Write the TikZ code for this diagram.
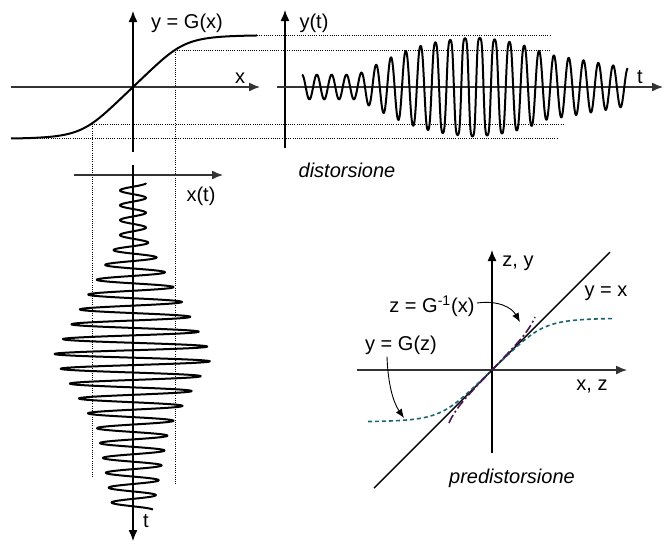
\documentclass[tikz,border=0pt]{standalone}
\usepackage{fontspec}
\setmainfont{Liberation Sans}
\usetikzlibrary{arrows.meta}
\definecolor{PreTeal}{HTML}{1C6470}
\definecolor{PrePurple}{HTML}{4A1450}

\begin{document}
\begin{tikzpicture}[x=0.5pt, y=-0.5pt,
    declare function={
      G(\u)=0.95*\u/(1+((0.95*\u/52)*(0.95*\u/52))^2)^0.25;
      env(\s)=max(13,min(13+186*(\s-0.17),max(80-200*(\s-0.53),36-64*(\s-0.75))));
    },
    axis/.style={line width=0.65pt, -{Latex[length=5.5pt,width=4.5pt]}},
    haxis/.style={axis, draw=black!80, fill=black},
    guide/.style={line width=0.45pt, dash pattern=on 0.5pt off 0.6pt},
    wave/.style={line width=1pt, line join=round},
    curve/.style={line width=1pt},
    gdash/.style={line width=0.8pt, draw=PreTeal, dash pattern=on 2pt off 1.5pt},
    gidash/.style={line width=0.8pt, draw=PrePurple,
                   dash pattern=on 4.5pt off 1.5pt on 1pt off 1.5pt},
    pointer/.style={-{Latex[length=4.5pt,width=3.6pt]}, line width=0.45pt},
    lbl/.style={font=\fontsize{10}{12}\selectfont, inner sep=1pt},
    title/.style={lbl, font=\fontsize{10}{12}\selectfont\itshape}
]
\useasboundingbox (0,0) rectangle (665,543);

% guide lines from the characteristic to the signals
\draw[guide] (257,35.5) -- (550,35.5);
\draw[guide] (175,50) -- (550,50);
\draw[guide] (92,124) -- (563,124);
\draw[guide] (11,138.5) -- (557,138.5);
\draw[guide] (92,124) -- (92,477);
\draw[guide] (175,50) -- (175,485);

% characteristic y = G(x)
\draw[haxis] (11,87) -- (260,87);
\draw[axis] (133,152) -- (133,11);
\draw[curve] plot[domain=-122:124, samples=90] ({133+\x}, {87-G(\x)});
\node[lbl] (gx) at (187,23) {y = G(x)};
\node[lbl] (xlab) at (240,78) {x};

% output signal y(t)
\draw[axis] (285,148) -- (285,10);
\draw[haxis] (277,87) -- (663,87);
\draw[wave] plot[domain=0:1, samples=700, variable=\s]
    ({302+326*\s}, {87-G(env(\s)*cos(7920*\s))});
\node[lbl] (ytlab) at (314,23) {y(t)};
\node[lbl] (tlab) at (640,77) {t};
\node[title] (dist) at (347,170) {distorsione};

% input signal x(t)
\draw[haxis] (74,175) -- (223,175);
\draw[axis] (133,165) -- (133,541);
\draw[wave] plot[domain=0:1, samples=700, variable=\s]
    ({133+env(\s)*cos(7920*\s)}, {183+327*\s});
\node[lbl] (xtlab) at (201,196) {x(t)};
\node[lbl] (tdown) at (146,521) {t};

% predistortion
\draw[axis] (492,453) -- (492,250);
\draw[haxis] (357,370) -- (627,370);
\draw[line width=0.7pt] (374,488) -- (610,252);
\draw[gdash] plot[domain=-124:121, samples=80] ({492+\x}, {370-G(\x)});
\draw[gidash] plot[domain=-53:53, samples=40] ({492+G(\x)}, {370-\x});
\node[lbl] (zy) at (518,263) {z, y};
\node[lbl] (xz) at (592,386) {x, z};
\node[lbl] (yx) at (606,293) {y = x};
\node[lbl] (ginv) at (432,306) {z = G\textsuperscript{-1}(x)};
\node[lbl] (gz) at (401,345) {y = G(z)};
\node[title] (predist) at (512,478) {predistorsione};
\coordinate (ginvtip) at (520,322);
\coordinate (gztip) at (404,418);
\draw[pointer] ([yshift=1.5pt]ginv.east) .. controls +(22,-3) and +(-8,-14) .. (ginvtip);
\draw[pointer] ([xshift=-7pt]gz.south) .. controls +(1,27) and +(-11,-16) .. (gztip);
\end{tikzpicture}
\end{document}
